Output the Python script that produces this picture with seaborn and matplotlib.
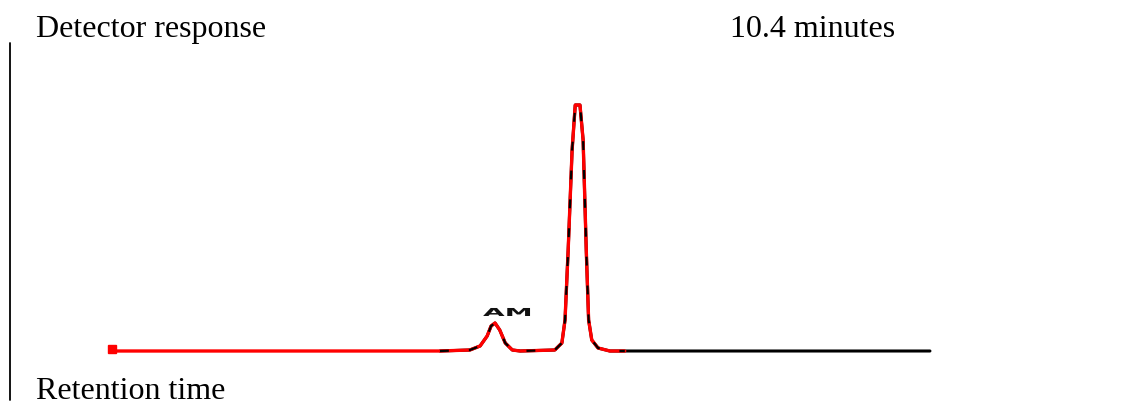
import matplotlib
matplotlib.use("Agg")
import matplotlib.pyplot as plt
from matplotlib.lines import Line2D
from matplotlib.patches import PathPatch
from matplotlib.textpath import TextPath
from matplotlib.font_manager import FontProperties
from matplotlib.transforms import Affine2D, IdentityTransform
import seaborn as sns
import pandas as pd

# retention time (min) and detector response
time_min = [0.00, 2.39, 4.17, 4.55, 4.68, 4.77, 4.82, 4.87, 4.93, 5.00, 5.09,
            5.19, 5.63, 5.72, 5.76, 5.80, 5.85, 5.89, 5.95, 5.99, 6.03, 6.06,
            6.10, 6.18, 6.33, 6.52, 10.40]
response = [0, 0, 0, 1, 5, 15, 25, 28, 21, 8, 1,
            0, 1, 8, 31, 101, 201, 246, 246, 211, 101, 31,
            11, 3, 0, 0, 0]
red_end = 6.52     # red trace stops here, black trace continues to the end
black_start = 4.17
peak_label = "AM"

df = pd.DataFrame({"time": time_min, "response": response})
red = df[df["time"] <= red_end]
black = df[df["time"] >= black_start]
overlay = df[(df["time"] >= black_start) & (df["time"] <= red_end)]

sns.set_style("white")
plt.rcParams["font.family"] = ["Liberation Serif", "DejaVu Serif"]

fig = plt.figure(figsize=(11.28, 4.05), dpi=100)
ax = fig.add_axes([0, 0, 1, 1])

sns.lineplot(x="time", y="response", data=black, ax=ax, color="black",
             linewidth=2.2, sort=False)
sns.lineplot(x="time", y="response", data=red, ax=ax, color="#ff0000",
             linewidth=2.4, sort=False)
# black patches showing through the red on the peaks
ax.plot(overlay["time"], overlay["response"], color="black", linewidth=1.6,
        linestyle=(0, (4, 9)))
ax.plot([time_min[0]], [response[0] + 2], marker="s", markersize=6,
        color="#ff0000", linestyle="none")

# wide, flat "AM" label over the small peak
tp = TextPath((0, 0), peak_label, size=11,
              prop=FontProperties(family="DejaVu Sans", weight="bold"))
tr = Affine2D().scale(2.55, 1.0).translate(483, 405 - 316) + IdentityTransform()
fig.add_artist(PathPatch(tp, transform=tr, facecolor="#111111",
                         edgecolor="none"))

ax.set_xlim(-1.424, 12.918)
ax.set_ylim(-54, 351)
ax.axis("off")

fig.add_artist(Line2D([10 / 1128, 10 / 1128], [1 - 43 / 405, 1 - 400 / 405],
                      color="black", linewidth=1.3))
fig.text(36 / 1128, 1 - 37 / 405, "Detector response", fontsize=23,
         color="black", ha="left", va="baseline")
fig.text(730 / 1128, 1 - 37 / 405, "10.4 minutes", fontsize=23,
         color="black", ha="left", va="baseline")
fig.text(36 / 1128, 1 - 399 / 405, "Retention time", fontsize=23,
         color="black", ha="left", va="baseline")

plt.savefig("out.png", dpi=100)
plt.close()
